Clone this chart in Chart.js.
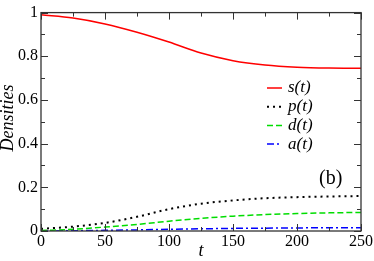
<!DOCTYPE html>
<html>
<head>
<meta charset="utf-8">
<script src="https://cdn.jsdelivr.net/npm/chart.js@4"></script>
<style>
  html, body { margin: 0; padding: 0; background: #fff; }
  #wrap { width: 374px; height: 261px; }
</style>
</head>
<body>
<div id="wrap"><canvas id="myChart" width="374" height="261"></canvas></div>
<script>
// time points and densities
var tValues = [0, 25, 50, 75, 100, 125, 150, 175, 200, 225, 250];
var sValues = [0.99, 0.975, 0.948, 0.91, 0.865, 0.815, 0.78, 0.76, 0.75, 0.746, 0.745];
var pValues = [0.01, 0.02, 0.037, 0.065, 0.1, 0.125, 0.14, 0.15, 0.155, 0.158, 0.16];
var dValues = [0.002, 0.008, 0.018, 0.03, 0.045, 0.058, 0.068, 0.075, 0.08, 0.083, 0.085];
var aValues = [0, 0.001, 0.003, 0.005, 0.008, 0.01, 0.012, 0.013, 0.014, 0.015, 0.015];
var xTicks = [0, 50, 100, 150, 200, 250];
var yTicks = [0, 0.2, 0.4, 0.6, 0.8, 1];
var seriesNames = ["s(t)", "p(t)", "d(t)", "a(t)"];

var serif = "'Liberation Serif', 'Times New Roman', serif";
Chart.defaults.font.family = serif;

function pts(ys) {
  return tValues.map(function (t, i) { return { x: t, y: ys[i] }; });
}

function makeSet(label, ys, color, dash, width) {
  return {
    label: label,
    data: pts(ys),
    borderColor: color,
    borderWidth: width,
    borderDash: dash,
    pointRadius: 0,
    fill: false,
    cubicInterpolationMode: "monotone",
  };
}

// frame, inward ticks, legend and labels
var decor = {
  id: "decor",
  afterDraw: function (c) {
    var g = c.ctx, a = c.chartArea;
    var xs = c.scales.x, ys = c.scales.y;
    g.save();
    g.strokeStyle = "#333";
    g.lineWidth = 1.3;
    g.strokeRect(a.left, a.top, a.right - a.left, a.bottom - a.top);
    g.lineWidth = 1;
    var v, px, len;
    for (v = 0; v <= 250; v += 25) {
      px = Math.round(xs.getPixelForValue(v)) + 0.5;
      len = v % 50 === 0 ? 7 : 4;
      g.beginPath();
      g.moveTo(px, a.bottom); g.lineTo(px, a.bottom - len);
      g.moveTo(px, a.top); g.lineTo(px, a.top + len);
      g.stroke();
    }
    for (var k = 0; k <= 10; k++) {
      px = Math.round(ys.getPixelForValue(k / 10)) + 0.5;
      len = k % 2 === 0 ? 7 : 4;
      g.beginPath();
      g.moveTo(a.left, px); g.lineTo(a.left + len, px);
      g.moveTo(a.right, px); g.lineTo(a.right - len, px);
      g.stroke();
    }

    // legend
    g.font = "italic 17px " + serif;
    g.textBaseline = "middle";
    c.data.datasets.forEach(function (ds, i) {
      var y = 88 + i * 18.7;
      g.strokeStyle = ds.borderColor;
      g.lineWidth = ds.borderWidth;
      g.setLineDash(ds.borderDash || []);
      g.beginPath();
      g.moveTo(267, y); g.lineTo(282, y);
      g.stroke();
      g.setLineDash([]);
      g.fillStyle = "#000";
      g.fillText(ds.label, 288, y);
    });

    g.fillStyle = "#000";
    g.font = "20px " + serif;
    g.textAlign = "left";
    g.fillText("(b)", 319, 179);

    // axis titles
    g.font = "italic 18px " + serif;
    g.textAlign = "center";
    g.fillText("t", 201, 251);
    g.textBaseline = "alphabetic";
    g.translate(13, 118);
    g.rotate(-Math.PI / 2);
    g.fillText("Densities", 0, 0);
    g.restore();
  },
};

var chart = new Chart(document.getElementById("myChart").getContext("2d"), {
  type: "line",
  data: {
    datasets: [
      makeSet(seriesNames[0], sValues, "#ff0000", [], 1.5),
      makeSet(seriesNames[1], pValues, "#000000", [2, 4], 2),
      makeSet(seriesNames[2], dValues, "#00dd00", [6, 3], 1.5),
      makeSet(seriesNames[3], aValues, "#0000ff", [7, 3, 2, 3], 1.5),
    ],
  },
  options: {
    responsive: false,
    animation: false,
    layout: { padding: { left: 0, right: 12, top: 6, bottom: 0 } },
    plugins: { legend: { display: false }, tooltip: { enabled: false } },
    scales: {
      x: {
        type: "linear",
        min: 0,
        max: 250,
        grid: { display: false, drawTicks: false },
        border: { display: false },
        afterBuildTicks: function (s) {
          s.ticks = xTicks.map(function (v) { return { value: v }; });
        },
        afterFit: function (s) { s.height = 30; },
        ticks: {
          padding: 1,
          color: "#000",
          maxRotation: 0,
          font: { size: 16 },
        },
      },
      y: {
        min: 0,
        max: 1,
        grid: { display: false, drawTicks: false },
        border: { display: false },
        afterBuildTicks: function (s) {
          s.ticks = yTicks.map(function (v) { return { value: v }; });
        },
        afterFit: function (s) { s.width = 41; },
        ticks: {
          padding: 3,
          color: "#000",
          font: { size: 16 },
          callback: function (v) { return String(v); },
        },
      },
    },
  },
  plugins: [decor],
});
</script>
</body>
</html>
